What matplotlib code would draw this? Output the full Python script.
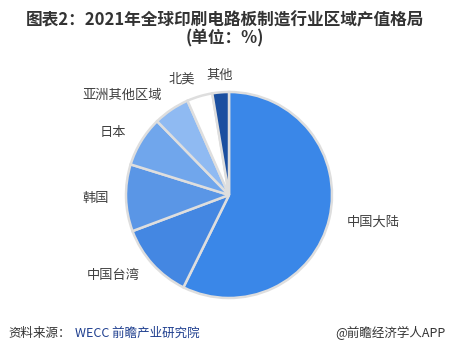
import math

import matplotlib
matplotlib.use("Agg")
import matplotlib.pyplot as plt

plt.rcParams['font.family'] = ['Noto Sans CJK SC', 'DejaVu Sans']

regions = ['中国大陆', '中国台湾', '韩国', '日本', '亚洲其他区域', '北美', '其他']
shares = [57.3, 12.0, 10.5, 7.9, 5.7, 4.0, 2.6]
colors = ['#3a87e8', '#4487e2', '#5a96e6', '#70a6ec', '#8fbaf2', '#ffffff', '#1b4fa0']

W, H = 450, 354
cx, cy, r = 229, H - 195, 103

fig = plt.figure(figsize=(W / 100, H / 100), dpi=100)
ax = fig.add_axes([0, 0, 1, 1])

wedges, _ = ax.pie(shares, colors=colors, startangle=90, counterclock=False,
                   center=(cx, cy), radius=r, frame=True,
                   wedgeprops=dict(edgecolor='#dedede', linewidth=1.8))
ax.set_xlim(0, W)
ax.set_ylim(0, H)
ax.set_aspect('equal')
ax.axis('off')

# labels by hand: pie's own alignment assumes the centre sits at x=0
for w, name in zip(wedges, regions):
    mid = math.radians((w.theta1 + w.theta2) / 2)
    dx, dy = math.cos(mid), math.sin(mid)
    ha = 'left' if dx > 0 else 'right'
    if abs(dx) < 0.1:
        ha = 'center'
    d = 1.17 * r
    ax.text(cx + d * dx, cy + d * dy, name, ha=ha, va='center', fontsize=9.5, color='#404040')

fig.text(0.5, 1 - 20 / H, '图表2：2021年全球印刷电路板制造行业区域产值格局', ha='center', va='center',
         fontsize=12, fontweight='bold', color='#333333')
fig.text(0.5, 1 - 38 / H, '(单位：%)', ha='center', va='center',
         fontsize=12, fontweight='bold', color='#333333')

fig.text(8 / W, 1 - 333 / H, '资料来源：', ha='left', va='center', fontsize=9, color='#333333')
fig.text(75 / W, 1 - 333 / H, 'WECC 前瞻产业研究院', ha='left', va='center', fontsize=9, color='#1f3f8f')
fig.text(446 / W, 1 - 333 / H, '@前瞻经济学人APP', ha='right', va='center', fontsize=9, color='#333333')

fig.savefig('out.png', dpi=100)
